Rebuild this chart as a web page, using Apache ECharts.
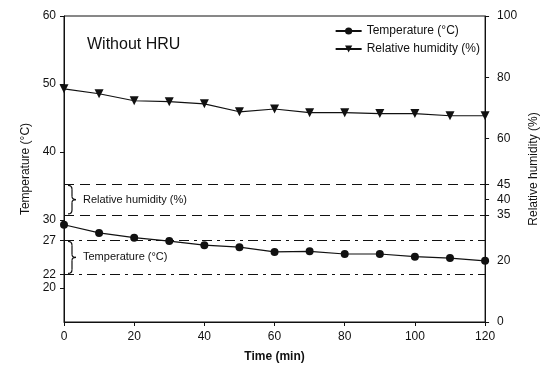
<!DOCTYPE html>
<html>
<head>
<meta charset="utf-8">
<script src="https://cdn.jsdelivr.net/npm/echarts@6/dist/echarts.min.js"></script>
<style>
  html, body { margin: 0; padding: 0; background: #fff; }
  #main { width: 548px; height: 372px; }
</style>
</head>
<body>
<div id="main"></div>
<script>
// values
const times = [0, 10, 20, 30, 40, 50, 60, 70, 80, 90, 100, 110, 120];
const temperature = [29.3, 28.1, 27.4, 26.9, 26.3, 26.0, 25.3, 25.4, 25.0, 25.0, 24.6, 24.4, 24.0];
const humidity = [76.2, 74.6, 72.3, 72.0, 71.3, 68.7, 69.6, 68.4, 68.4, 68.1, 68.1, 67.4, 67.4];
const tempTicks = [20, 22, 27, 30, 40, 50, 60];
const rhTicks = [0, 20, 35, 40, 45, 60, 80, 100];
const tempBand = [22, 27];
const rhBand = [35, 45];

const font = 'Liberation Sans, Arial, sans-serif';
const black = '#111';

const myChart = echarts.init(document.getElementById('main'));

const axisCommon = {
  axisLine: { show: true, lineStyle: { color: black, width: 1 } },
  axisTick: { show: true, inside: false, length: 4, lineStyle: { color: black } },
  axisLabel: { color: black, fontFamily: font, fontSize: 12 },
  splitLine: { show: false },
  nameTextStyle: { color: black, fontFamily: font, fontSize: 12 },
};

const option = {
  animation: false,
  textStyle: { fontFamily: font },
  grid: {
    left: 64, right: 62, top: 16, bottom: 50,
    show: true, borderColor: black, borderWidth: 1,
  },
  title: {
    text: 'Without HRU',
    left: 82, top: 32,
    textStyle: { color: black, fontFamily: font, fontSize: 16, fontWeight: 'normal' },
  },
  legend: {
    orient: 'vertical',
    right: 63, top: 20,
    itemWidth: 26, itemHeight: 9, itemGap: 6,
    textStyle: { color: black, fontFamily: font, fontSize: 12 },
    data: ['Temperature (\u00B0C)', 'Relative humidity (%)'],
  },
  xAxis: {
    ...axisCommon,
    type: 'value',
    min: 0, max: 120, interval: 20,
    name: 'Time (min)',
    nameLocation: 'middle',
    nameGap: 29,
    nameTextStyle: { ...axisCommon.nameTextStyle, fontWeight: 'bold' },
    axisLabel: { ...axisCommon.axisLabel, margin: 9 },
  },
  yAxis: [
    {
      ...axisCommon,
      type: 'value',
      position: 'left',
      min: 15, max: 60,
      name: 'Temperature (\u00B0C)',
      nameLocation: 'middle',
      nameRotate: 90,
      nameGap: 32,
      axisTick: { ...axisCommon.axisTick, customValues: tempTicks },
      axisLabel: { ...axisCommon.axisLabel, customValues: tempTicks, margin: 8 },
    },
    {
      ...axisCommon,
      type: 'value',
      position: 'right',
      min: 0, max: 100,
      name: 'Relative humidity (%)',
      nameLocation: 'middle',
      nameRotate: 90,
      nameGap: 40,
      axisTick: { ...axisCommon.axisTick, customValues: rhTicks },
      axisLabel: { ...axisCommon.axisLabel, customValues: rhTicks, margin: 12 },
    },
  ],
  series: [
    {
      name: 'Temperature (\u00B0C)',
      type: 'line',
      yAxisIndex: 0,
      symbol: 'circle',
      symbolSize: 8,
      itemStyle: { color: black },
      lineStyle: { color: black, width: 1.2 },
      data: times.map((t, i) => [t, temperature[i]]),
      markLine: {
        silent: true,
        symbol: 'none',
        label: { show: false },
        lineStyle: { color: black, width: 1, type: [10, 5, 3, 5] },
        data: tempBand.map((v) => ({ yAxis: v })),
      },
    },
    {
      name: 'Relative humidity (%)',
      type: 'line',
      yAxisIndex: 1,
      symbol: 'triangle',
      symbolRotate: 180,
      symbolSize: 9,
      itemStyle: { color: black },
      lineStyle: { color: black, width: 1.2 },
      data: times.map((t, i) => [t, humidity[i]]),
      markLine: {
        silent: true,
        symbol: 'none',
        label: { show: false },
        lineStyle: { color: black, width: 1, type: [10, 6] },
        data: rhBand.map((v) => ({ yAxis: v })),
      },
    },
  ],
};

myChart.setOption(option);

// braces + labels for the comfort bands, placed from the axes
function bandNote(axisIndex, band, text) {
  const y0 = myChart.convertToPixel({ yAxisIndex: axisIndex }, band[1]) + 1;
  const y1 = myChart.convertToPixel({ yAxisIndex: axisIndex }, band[0]) - 1;
  const ym = (y0 + y1) / 2;
  const x = myChart.convertToPixel({ xAxisIndex: 0 }, 0) + 4;
  const stroke = { stroke: black, lineWidth: 1.2, fill: null };
  const curve = (x1, y1, cx, cy, x2, y2) => ({
    type: 'bezierCurve',
    shape: { x1: x1, y1: y1, cpx1: cx, cpy1: cy, x2: x2, y2: y2 },
    style: stroke,
  });
  const line = (x1, y1, x2, y2) => ({
    type: 'line',
    shape: { x1: x1, y1: y1, x2: x2, y2: y2 },
    style: stroke,
  });
  return [
    curve(x, y0, x + 4, y0, x + 4, y0 + 4),
    line(x + 4, y0 + 4, x + 4, ym - 3),
    curve(x + 4, ym - 3, x + 4, ym, x + 8, ym),
    curve(x + 8, ym, x + 4, ym, x + 4, ym + 3),
    line(x + 4, ym + 3, x + 4, y1 - 4),
    curve(x + 4, y1 - 4, x + 4, y1, x, y1),
    {
      type: 'text',
      x: x + 15, y: ym,
      style: {
        text: text, fontFamily: font, fontSize: 11,
        fill: black, verticalAlign: 'middle', align: 'left',
      },
    },
  ];
}

myChart.setOption({
  graphic: [
    ...bandNote(1, rhBand, 'Relative humidity (%)'),
    ...bandNote(0, tempBand, 'Temperature (\u00B0C)'),
  ],
});
</script>
</body>
</html>
